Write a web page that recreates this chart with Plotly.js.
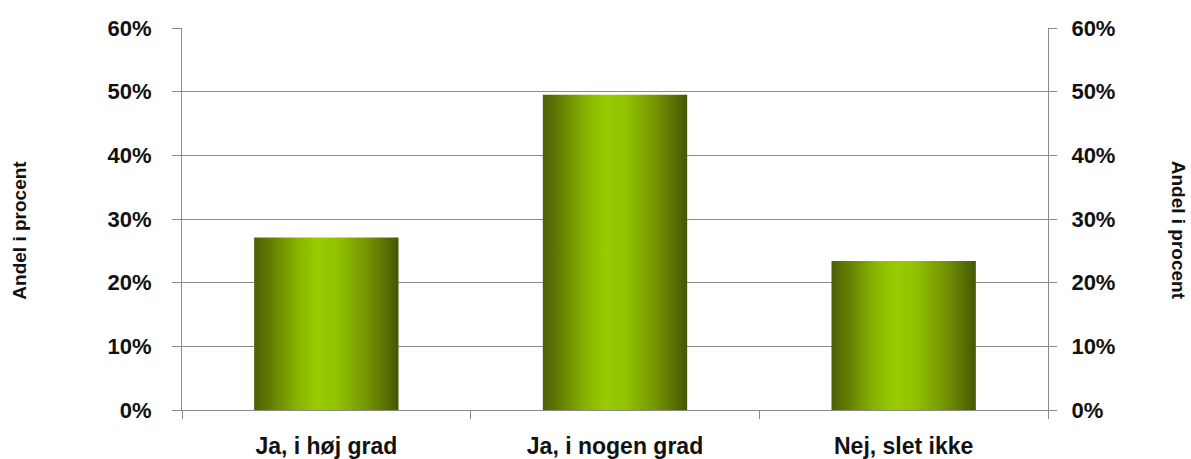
<!DOCTYPE html>
<html>
<head>
<meta charset="utf-8">
<script src="https://cdn.plot.ly/plotly-3.0.1.min.js"></script>
<style>
  html, body { margin: 0; padding: 0; background: #fff; }
  #chart { width: 1191px; height: 459px; }
</style>
</head>
<body>
<div id="chart"></div>
<script>
// Answer categories and their shares
const categories = ['Ja, i høj grad', 'Ja, i nogen grad', 'Nej, slet ikke'];
const shares = [0.271, 0.495, 0.234];

// Percentage ticks shared by both value axes
const tickValues = [0, 0.1, 0.2, 0.3, 0.4, 0.5, 0.6];
const tickLabels = ['0%', '10%', '20%', '30%', '40%', '50%', '60%'];

const axisTitle = 'Andel i procent';

const gray = '#8a8a8a';
const fontFamily = 'Liberation Sans, Arial, sans-serif';
const labelFont = { family: fontFamily, size: 22, color: '#111', weight: 'bold' };
const categoryFont = { family: fontFamily, size: 23, color: '#111', weight: 'bold' };

const traces = [{
  type: 'bar',
  x: categories,
  y: shares,
  marker: { color: '#8fbf00', line: { width: 0 } },
  hoverinfo: 'x+y'
}, {
  // invisible companion trace so the right-hand axis is drawn
  type: 'bar',
  x: categories,
  y: shares,
  yaxis: 'y2',
  marker: { color: 'rgba(0,0,0,0)' },
  hoverinfo: 'skip',
  showlegend: false
}];

const layout = {
  width: 1191,
  height: 459,
  margin: { l: 182, r: 143, t: 28, b: 49 },
  paper_bgcolor: '#ffffff',
  plot_bgcolor: '#ffffff',
  showlegend: false,
  bargap: 0.5,
  barmode: 'overlay',
  xaxis: {
    type: 'category',
    tickson: 'boundaries',
    ticks: 'outside',
    ticklen: 8,
    tickcolor: gray,
    showline: true,
    linecolor: gray,
    linewidth: 1,
    showgrid: false,
    tickfont: categoryFont,
    ticklabelstandoff: 15
  },
  yaxis: {
    range: [0, 0.6],
    tickvals: tickValues,
    ticktext: tickLabels,
    ticks: 'outside',
    ticklen: 9,
    tickcolor: gray,
    showline: true,
    linecolor: gray,
    showgrid: true,
    gridcolor: gray,
    gridwidth: 1,
    zeroline: false,
    tickfont: labelFont,
    ticklabelstandoff: 16,
    fixedrange: true
  },
  yaxis2: {
    overlaying: 'y',
    side: 'right',
    range: [0, 0.6],
    tickvals: tickValues,
    ticktext: tickLabels,
    ticks: 'outside',
    ticklen: 8,
    tickcolor: gray,
    showline: true,
    linecolor: gray,
    showgrid: false,
    zeroline: false,
    tickfont: labelFont,
    ticklabelstandoff: 10,
    fixedrange: true
  },
  annotations: [{
    text: axisTitle,
    xref: 'paper', yref: 'paper',
    x: -0.188, y: 0.47,
    xanchor: 'center', yanchor: 'middle',
    textangle: -90,
    showarrow: false,
    font: { family: fontFamily, size: 19, color: '#111', weight: 'bold' }
  }, {
    text: axisTitle,
    xref: 'paper', yref: 'paper',
    x: 1.151, y: 0.47,
    xanchor: 'center', yanchor: 'middle',
    textangle: 90,
    showarrow: false,
    font: { family: fontFamily, size: 19, color: '#111', weight: 'bold' }
  }]
};

// Cylinder-like shading across each bar
function shadeBars(gd) {
  const svg = gd.querySelector('svg.main-svg');
  const ns = 'http://www.w3.org/2000/svg';
  let defs = svg.querySelector('defs');
  if (!defs) { defs = document.createElementNS(ns, 'defs'); svg.insertBefore(defs, svg.firstChild); }
  const grad = document.createElementNS(ns, 'linearGradient');
  grad.setAttribute('id', 'barShade');
  grad.setAttribute('x1', '0'); grad.setAttribute('y1', '0');
  grad.setAttribute('x2', '1'); grad.setAttribute('y2', '0');
  const stops = [
    [0.00, '#4a6004'],
    [0.12, '#647f02'],
    [0.30, '#88b400'],
    [0.44, '#99cc00'],
    [0.58, '#91c200'],
    [0.80, '#728f02'],
    [1.00, '#435804']
  ];
  stops.forEach(([o, c]) => {
    const s = document.createElementNS(ns, 'stop');
    s.setAttribute('offset', o);
    s.setAttribute('stop-color', c);
    grad.appendChild(s);
  });
  defs.appendChild(grad);
  const first = gd.querySelector('.barlayer .trace.bars');
  if (first) {
    first.querySelectorAll('.point path').forEach(p => { p.style.fill = 'url(#barShade)'; });
  }
}

const gd = document.getElementById('chart');
Plotly.newPlot(gd, traces, layout, { displayModeBar: false, staticPlot: true }).then(() => shadeBars(gd));
</script>
</body>
</html>
